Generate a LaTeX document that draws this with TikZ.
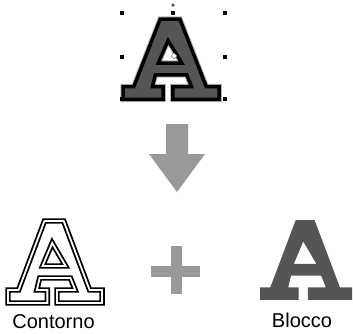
\documentclass[tikz,border=0pt]{standalone}
\usepackage{fontspec}
\setmainfont{Liberation Sans}
\usetikzlibrary{shapes.geometric}
\definecolor{glyph}{HTML}{555555}
\definecolor{marker}{HTML}{999999}
\tikzstyle{handle} = [rectangle, fill=black, inner sep=0pt, minimum size=4pt]
\tikzstyle{caption} = [anchor=base, font=\fontsize{20}{24}\selectfont, inner sep=0pt]
\tikzstyle{outline} = [draw=black, line width=1.8pt, double=white, double distance=1.8pt,
                       line join=miter]
\tikzstyle{block} = [fill=marker, draw=none]
% outline of the letter A, origin at its top left corner
\newcommand{\letterA}{(38,0) -- (58,0) -- (85,69) -- (98,69) -- (98,82) -- (51,82)
  -- (51,69) -- (70,69) -- (65,57) -- (33,57) -- (30,69) -- (41,69) -- (41,82)
  -- (0,82) -- (0,69) -- (11,69) -- cycle
  (46,22) -- (60,45) -- (36,45) -- cycle}

\begin{document}
\begin{tikzpicture}[x=1pt, y=-1pt]
    \useasboundingbox (0,0) rectangle (353,333);

    % Selected letter
    \begin{scope}[shift={(123,19)}, xscale=0.98, yscale=0.98]
        \draw[marker!70, line width=5.5pt, line join=miter] \letterA;
        \draw[black, line width=3.5pt, fill=glyph, even odd rule, line join=miter] \letterA;
    \end{scope}

    % Selection handles
    \foreach \hx/\hy/\hname in {122/13/tl, 173/13/tc, 225/13/tr, 122/57/ml,
                                225/57/mr, 122/99/bl, 173/99/bc, 225/99/br}
        \node[handle] (h-\hname) at (\hx,\hy) {};
    \node[circle, fill=black!70, inner sep=0pt, minimum size=3.5pt] (rot) at (173,5) {};
    \node[diamond, draw=black!50, fill=white, inner sep=0pt, minimum size=6pt,
          line width=0.5pt] (center) at (174,56) {};

    % Arrow down
    \coordinate (arrowtip) at (177,192);
    \fill[marker] (166,124) -- (188,124) -- (188,154) -- (205,154) -- (arrowtip)
        -- (149,154) -- (166,154) -- cycle;

    % Contour letter
    \begin{scope}[shift={(8,221)}, xscale=0.96]
        \draw[outline, even odd rule] \letterA;
    \end{scope}
    \node[caption] (contorno) at (53.5,328) {Contorno};

    % Plus sign
    \fill[block] (151,266) rectangle (200,277);
    \fill[block] (171,246) rectangle (182,294);

    % Block letter
    \begin{scope}[shift={(260,220)}, xscale=0.94, yscale=0.975]
        \fill[glyph, even odd rule] \letterA;
    \end{scope}
    \node[caption] (blocco) at (302,327) {Blocco};
\end{tikzpicture}
\end{document}
